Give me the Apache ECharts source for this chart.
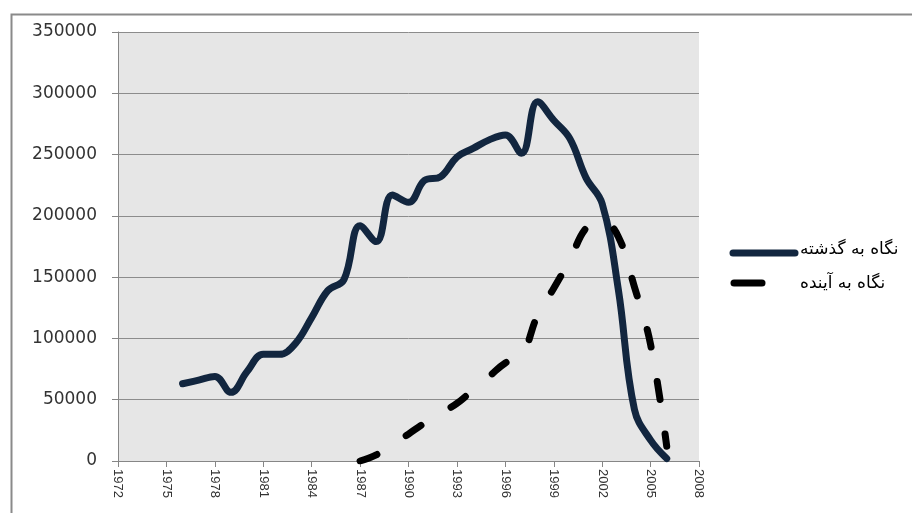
<!DOCTYPE html>
<html>
<head>
<meta charset="utf-8">
<script src="https://cdn.jsdelivr.net/npm/echarts@6/dist/echarts.min.js"></script>
<style>
html,body{margin:0;padding:0;background:#fff;}
#c{width:912px;height:513px;}
</style>
</head>
<body>
<div id="c"></div>
<script>
const years = ['1972','1973','1974','1975','1976','1977','1978','1979','1980','1981','1982','1983','1984','1985','1986','1987','1988','1989','1990','1991','1992','1993','1994','1995','1996','1997','1998','1999','2000','2001','2002','2003','2004','2005','2006','2007','2008'];
const pastName = 'نگاه به گذشته';
const futureName = 'نگاه به آینده';
const pastValues = [null,null,null,null,63000,66000,69000,56000,73000,87000,87000,96000,117000,139000,148000,192000,179000,217000,211000,229000,232000,248000,255000,262000,266000,251000,293000,278000,263000,231000,210000,140000,42000,17000,2000,null,null];
const futureValues = [null,null,null,null,null,null,null,null,null,null,null,null,null,null,null,0,5000,13000,22000,31000,39000,47000,58000,69000,80000,86000,119000,141000,164000,190000,196000,183000,142000,95000,12000,null,null];
const yTicks = {min:0, max:350000, interval:50000};

const pastColor = '#12263f';
const futureColor = '#000000';

const chart = echarts.init(document.getElementById('c'));
chart.setOption({
  animation:false,
  backgroundColor:'#ffffff',
  graphic:[
    {type:'rect',left:9,top:12,shape:{width:920,height:520},style:{fill:null,stroke:'#8a8a8a',lineWidth:2},silent:true,z:-1},
    {type:'line',shape:{x1:733,y1:253,x2:795,y2:253},style:{stroke:pastColor,lineWidth:7,lineCap:'round'},silent:true},
    {type:'text',x:800,y:250,style:{text:pastName,fontFamily:'DejaVu Sans',fontSize:17,fill:'#000',textAlign:'left',textVerticalAlign:'middle'},silent:true},
    {type:'line',shape:{x1:734,y1:283,x2:762,y2:283},style:{stroke:futureColor,lineWidth:7,lineCap:'round'},silent:true},
    {type:'text',x:800,y:284,style:{text:futureName,fontFamily:'DejaVu Sans',fontSize:17,fill:'#000',textAlign:'left',textVerticalAlign:'middle'},silent:true}
  ],
  grid:{left:118,right:213,top:32,bottom:52,show:true,backgroundColor:'#e6e6e6',borderWidth:0},
  xAxis:{
    type:'category',data:years,boundaryGap:false,
    axisLine:{lineStyle:{color:'#868686',width:1}},
    axisTick:{show:true,interval:2,length:6,lineStyle:{color:'#868686'}},
    axisLabel:{interval:2,rotate:-90,fontFamily:'Liberation Sans',fontSize:13,color:'#333333',margin:8},
    splitLine:{show:false}
  },
  yAxis:{
    type:'value',min:yTicks.min,max:yTicks.max,interval:yTicks.interval,
    axisLine:{show:true,lineStyle:{color:'#868686',width:1}},
    axisTick:{show:true,length:6,lineStyle:{color:'#868686'}},
    axisLabel:{fontFamily:'DejaVu Sans',fontSize:17,color:'#333333',margin:21,formatter:function(v){return String(v);}},
    splitLine:{lineStyle:{color:'#8c8c8c',width:1}}
  },
  series:[
    {name:pastName,type:'line',data:pastValues,smooth:0.4,symbol:'none',connectNulls:false,
     lineStyle:{color:pastColor,width:7,cap:'round',join:'round'},itemStyle:{color:pastColor}},
    {name:futureName,type:'line',data:futureValues,smooth:0.4,symbol:'none',connectNulls:false,
     lineStyle:{color:futureColor,width:7,type:[18,35],cap:'round',join:'round'},itemStyle:{color:futureColor}}
  ]
});
</script>
</body>
</html>
